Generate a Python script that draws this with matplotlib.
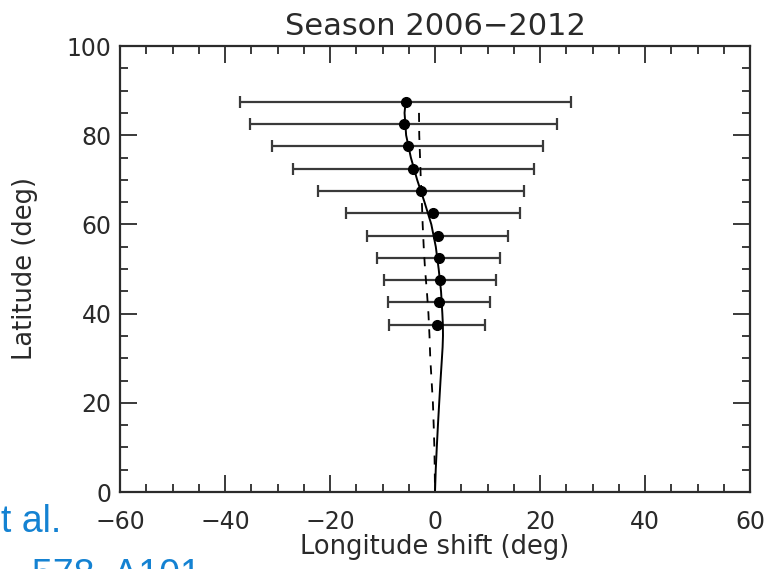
import matplotlib
matplotlib.use('Agg')
import matplotlib.pyplot as plt
from matplotlib.ticker import MultipleLocator

# mesures : latitude, décalage en longitude et demi-largeur des barres d'erreur
latitude = [87.5, 82.5, 77.5, 72.5, 67.5, 62.5, 57.5, 52.5, 47.5, 42.5, 37.5]
decalage = [-5.6, -6.0, -5.2, -4.1, -2.7, -0.4, 0.5, 0.7, 0.9, 0.8, 0.4]
erreur = [31.5, 29.2, 25.8, 22.9, 19.6, 16.6, 13.4, 11.7, 10.7, 9.7, 9.1]

# modèle (trait plein)
lat_modele = [87.5, 85, 80, 75, 70, 65, 60, 55, 50, 45, 40, 37.5, 35, 32.5, 30, 25, 20,
              15, 10, 5, 0]
lon_modele = [-5.6, -5.8, -5.5, -4.6, -3.4, -2.0, -0.7, 0.15, 0.7, 1.15, 1.4, 1.5, 1.52,
              1.45, 1.32, 1.05, 0.8, 0.56, 0.34, 0.14, 0.0]

# modèle (tirets)
lat_tirets = [85, 80, 75, 70, 65, 60, 55, 50, 45, 40, 35, 30, 25, 20, 15, 10, 5, 0]
lon_tirets = [-3.05, -3.0, -2.85, -2.7, -2.5, -2.35, -2.15, -1.9, -1.55, -1.25, -1.05,
              -0.9, -0.65, -0.4, -0.25, -0.12, -0.05, 0.0]

fig = plt.figure(figsize=(7.79, 5.69), dpi=100)
ax = fig.add_axes([120/779, 1 - 492/569, 630/779, 446/569])

gris = '#2b2b2b'
texte = '#2a2a2a'
ax.errorbar(decalage, latitude, xerr=erreur, fmt='o', color='black', ms=7,
            ecolor='#3a3a3a', elinewidth=1.6, capsize=4, capthick=1.6)
ax.plot(lon_modele, lat_modele, '-', color='black', lw=1.4)
ax.plot(lon_tirets, lat_tirets, '--', color='black', lw=1.3, dashes=(5, 5))

ax.set_xlim(-60, 60)
ax.set_ylim(0, 100)
ax.xaxis.set_major_locator(MultipleLocator(20))
ax.xaxis.set_minor_locator(MultipleLocator(5))
ax.yaxis.set_major_locator(MultipleLocator(20))
ax.yaxis.set_minor_locator(MultipleLocator(5))
ax.tick_params(which='both', direction='in', top=True, right=True, color=gris, width=1.3)
ax.tick_params(which='major', length=12)
ax.tick_params(which='minor', length=6)
ax.tick_params(axis='x', pad=13, labelsize=17, labelcolor=texte)
ax.tick_params(axis='y', pad=6, labelsize=17, labelcolor=texte)
for s in ax.spines.values():
    s.set_color(gris)
    s.set_linewidth(1.6)

ax.set_title('Season 2006\u22122012', fontsize=22, color=texte, pad=8)
ax.set_xlabel('Longitude shift (deg)', fontsize=18.5, color=texte, labelpad=0)
ax.set_ylabel('Latitude (deg)', fontsize=18.5, color=texte)
ax.yaxis.set_label_coords(-0.13, 0.5)

# référence (texte bleu coupé en bas à gauche)
bleu = '#1482d2'
fig.text(61/779, 1 - 522/569, 'et al.', ha='right', va='center', color=bleu,
         fontsize=27, family='Liberation Sans')
fig.text(32/779, 1 - 558/569, '578, A101', ha='left', va='top', color=bleu,
         fontsize=27, family='Liberation Sans')

fig.savefig('out.png', dpi=100)
